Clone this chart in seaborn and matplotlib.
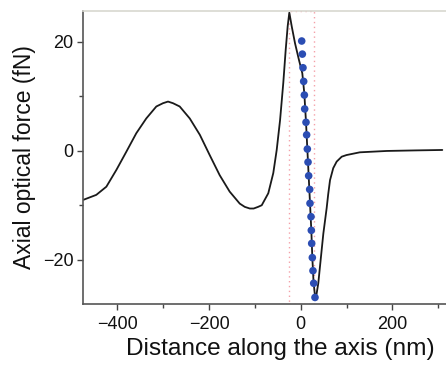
import matplotlib
matplotlib.use("Agg")
import matplotlib.pyplot as plt
import seaborn as sns
import pandas as pd
from matplotlib.ticker import MultipleLocator

# Curve values
curve_x = [-474, -446, -424, -402, -380.5, -358.7, -337, -315, -300.5, -289.5, -278.6, -264, -242, -220,
           -198.6, -176.7, -155, -133, -122, -111, -102.6, -93, -85, -70.7, -59.8, -52.4, -45, -38,
           -32.7, -28.4, -24.8, -19.6, -12.4, -3.7, 3.5, 7.9, 11.6, 14.5, 17.4, 20.3,
           23.2, 25.4, 28, 31, 33.4, 38.4, 42, 49.4, 56.7, 60, 64, 71, 78.5, 89.5,
           100, 129, 188, 250, 309]
curve_y = [-9.0, -8.1, -6.6, -3.5, -0.2, 3.2, 5.9, 8.1, 8.7, 9.0, 8.7, 8.1, 5.9, 2.9,
           -0.8, -4.5, -7.5, -9.7, -10.3, -10.6, -10.6, -10.3, -10.0, -7.8, -4.1, 0.1, 5.6, 12.4,
           18.5, 22.8, 25.3, 22.8, 19.7, 16.6, 14.2, 10.5, 5.2, 0.3, -4.6, -9.6,
           -14.6, -19.6, -24.0, -26.5, -26.9, -24.3, -21.3, -15.2, -10.5, -8.0, -5.4, -3.2, -2.0, -1.1,
           -0.8, -0.3, -0.05, 0.05, 0.13]

# Blue dots
dots_x = [2.2, 3.6, 5.0, 6.5, 8.0, 8.7, 11.6, 13.0, 14.5, 16.0, 17.4, 19.6,
          20.3, 22.5, 23.2, 24.0, 25.4, 26.8, 28.4, 31.2]
dots_y = [20.1, 17.7, 15.2, 12.7, 10.2, 7.65, 5.2, 2.9, 0.3, -2.1, -4.6, -7.1,
          -9.65, -12.1, -14.6, -17.0, -19.6, -22.0, -24.3, -26.9]

# Dotted box bounds
box_x = [-25, 28]

x_label = "Distance along the axis (nm)"
y_label = "Axial optical force (fN)"

sns.set_style("ticks")
plt.rcParams['font.family'] = ['Liberation Sans', 'DejaVu Sans']

fig = plt.figure(figsize=(4.46, 3.68), dpi=100)
W, H = 446, 368
left_px, top_px, bottom_px = 83, 11, 304
xmin, xmax = -475, 330
ppu = 0.4583
width_px = (xmax - xmin) * ppu
ax = fig.add_axes([left_px / W, 1 - bottom_px / H, width_px / W, (bottom_px - top_px) / H])

curve = pd.DataFrame({"x": curve_x, "y": curve_y})
dots = pd.DataFrame({"x": dots_x, "y": dots_y})

ax.axvspan(box_x[0], box_x[1], ymin=0, ymax=1, fill=False, edgecolor="#f4a0a8",
           linestyle=(0, (1, 2.5)), linewidth=1.0, zorder=1)
sns.lineplot(data=curve, x="x", y="y", sort=False, color="#1a1a1a", linewidth=1.3, ax=ax, zorder=2)
sns.scatterplot(data=dots, x="x", y="y", color="#2b4db3", s=30, edgecolor="none", ax=ax, zorder=3)

ax.set_xlim(xmin, xmax)
ax.set_ylim(-28.1, 25.6)
ax.xaxis.set_major_locator(MultipleLocator(200))
ax.xaxis.set_minor_locator(MultipleLocator(100))
ax.yaxis.set_major_locator(MultipleLocator(20))
ax.yaxis.set_minor_locator(MultipleLocator(10))

ax.tick_params(which="major", direction="out", length=4.5, width=1.0, color="#444444",
               labelsize=13, pad=2.5, labelcolor="#111111")
ax.tick_params(axis="x", which="major", pad=4)
ax.tick_params(which="minor", direction="out", length=3, width=1.0, color="#444444")

for s in ["left", "bottom"]:
    ax.spines[s].set_color("#555555")
    ax.spines[s].set_linewidth(1.2)
ax.spines["top"].set_color("#d8d8d0")
ax.spines["top"].set_linewidth(1.2)
ax.spines["right"].set_visible(False)

ax.set_xlabel(x_label, fontsize=17.6, color="#111111", labelpad=4, x=0.535)
ax.set_ylabel(y_label, fontsize=16.5, color="#111111", labelpad=5)

fig.savefig("out.png", dpi=100)
